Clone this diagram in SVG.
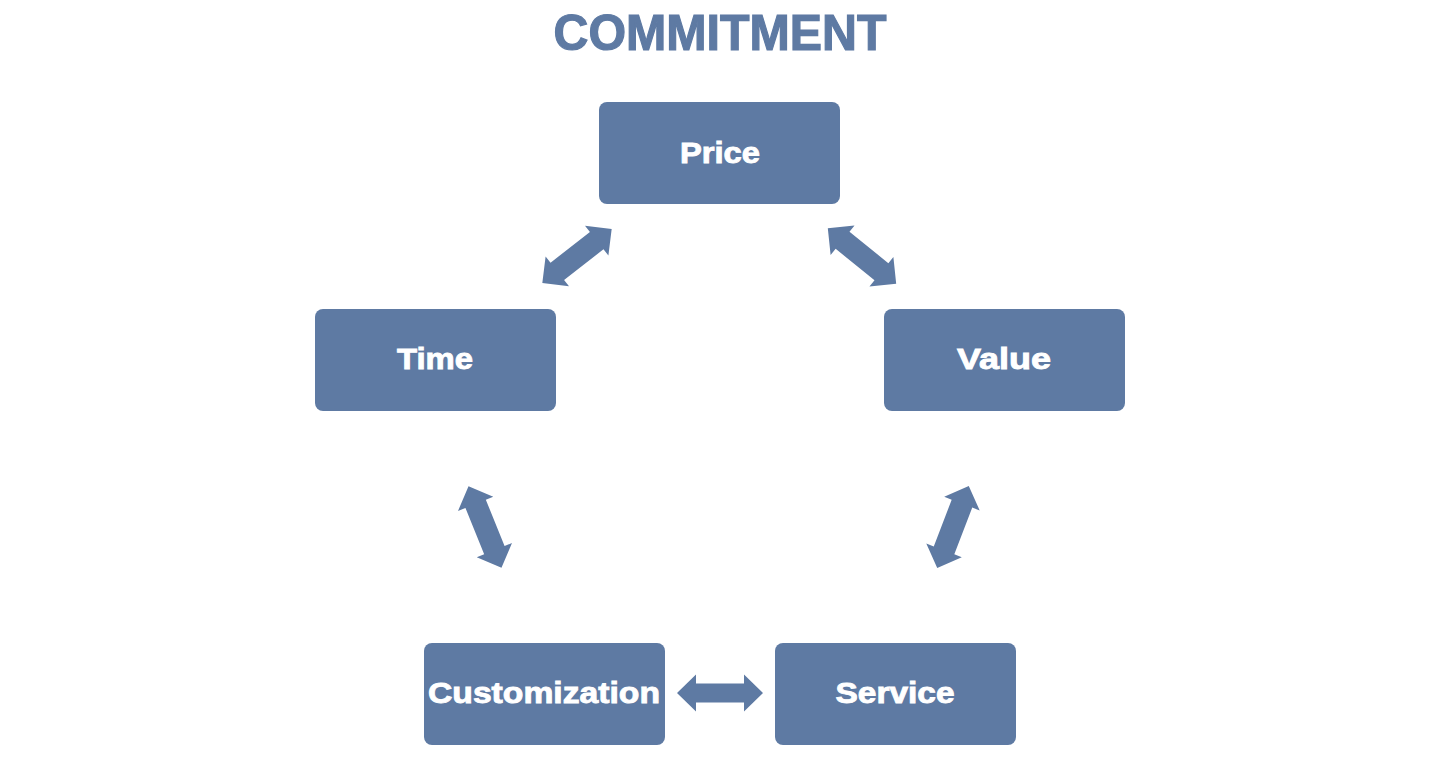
<svg xmlns="http://www.w3.org/2000/svg" width="1440" height="758" viewBox="0 0 1440 758">
<defs>
<style>
.box{fill:#5e7aa3;}
.lbl{fill:#ffffff;stroke:#ffffff;stroke-width:0.9px;font-family:"Liberation Sans",Arial,sans-serif;font-weight:bold;font-size:30px;text-anchor:middle;}
.title{fill:#5e7aa3;stroke:#5e7aa3;stroke-width:1.2px;font-family:"Liberation Sans",Arial,sans-serif;font-weight:bold;font-size:50px;text-anchor:middle;}
.arr{fill:#5e7aa3;}
</style>
<path id="dbl" d="M -43,0 L -24,-18.5 L -24,-9.5 L 24,-9.5 L 24,-18.5 L 43,0 L 24,18.5 L 24,9.5 L -24,9.5 L -24,18.5 Z"/>
<path id="dbl2" d="M -44,0 L -25,-19 L -25,-11 L 25,-11 L 25,-19 L 44,0 L 25,19 L 25,11 L -25,11 L -25,19 Z"/>
</defs>
<rect width="1440" height="758" fill="#ffffff"/>
<text class="title" x="720" y="50" textLength="333" lengthAdjust="spacingAndGlyphs">COMMITMENT</text>
<g id="connectors" class="arr">
<use href="#dbl2" transform="translate(577,256) rotate(-38)"/>
<use href="#dbl2" transform="translate(862,256) rotate(39)"/>
<use href="#dbl2" transform="translate(485,527) rotate(68)"/>
<use href="#dbl2" transform="translate(953,527) rotate(111)"/>
<use href="#dbl" transform="translate(720,693)"/>
</g>
<g id="price"><rect class="box" x="599" y="102" width="241" height="102" rx="8"/><text class="lbl" x="720" y="163" textLength="80" lengthAdjust="spacingAndGlyphs">Price</text></g>
<g id="time"><rect class="box" x="315" y="309" width="241" height="102" rx="8"/><text class="lbl" x="435" y="369" textLength="76" lengthAdjust="spacingAndGlyphs">Time</text></g>
<g id="value"><rect class="box" x="884" y="309" width="241" height="102" rx="8"/><text class="lbl" x="1004" y="369" textLength="94" lengthAdjust="spacingAndGlyphs">Value</text></g>
<g id="customization"><rect class="box" x="424" y="643" width="241" height="102" rx="8"/><text class="lbl" x="544" y="703" textLength="232" lengthAdjust="spacingAndGlyphs">Customization</text></g>
<g id="service"><rect class="box" x="775" y="643" width="241" height="102" rx="8"/><text class="lbl" x="895" y="703" textLength="119" lengthAdjust="spacingAndGlyphs">Service</text></g>
</svg>
